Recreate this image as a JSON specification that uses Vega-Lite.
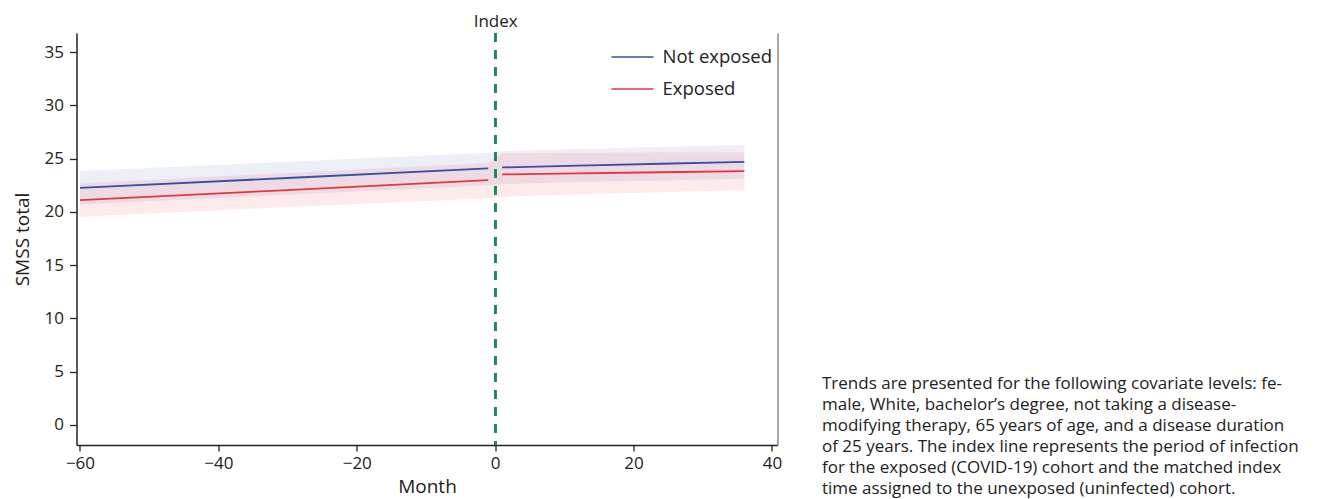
{
  "$schema": "https://vega.github.io/schema/vega-lite/v6.json",
  "autosize": {"type": "none"},
  "padding": {"left": 76.5, "top": 33, "right": 549.5, "bottom": 54},
  "width": 701,
  "height": 412,
  "background": "white",
  "config": {
    "font": "Open Sans",
    "view": {"stroke": null},
    "axis": {"labelFont": "Open Sans", "titleFont": "Open Sans", "labelColor": "#222", "titleColor": "#222", "titleFontWeight": "normal", "grid": false}
  },
  "title": {
    "text": [
      "Trends are presented for the following covariate levels: fe-",
      "male, White, bachelor’s degree, not taking a disease-",
      "modifying therapy, 65 years of age, and a disease duration",
      "of 25 years. The index line represents the period of infection",
      "for the exposed (COVID-19) cohort and the matched index",
      "time assigned to the unexposed (uninfected) cohort."
    ],
    "orient": "bottom",
    "anchor": "end",
    "align": "left",
    "frame": "group",
    "dx": 44.5,
    "dy": -124.5,
    "font": "Open Sans",
    "fontSize": 17,
    "fontWeight": "normal",
    "color": "#222",
    "lineHeight": 21
  },
  "data": {
    "values": [
      {"month": -60, "group": "Not exposed", "seg": "pre", "est": 22.26, "lo": 20.7, "hi": 23.83},
      {"month": -30, "group": "Not exposed", "seg": "pre", "est": 23.18, "lo": 21.6, "hi": 24.7},
      {"month": -1, "group": "Not exposed", "seg": "pre", "est": 24.08, "lo": 22.5, "hi": 25.55},
      {"month": 1, "group": "Not exposed", "seg": "post", "est": 24.17, "lo": 22.6, "hi": 25.7},
      {"month": 12, "group": "Not exposed", "seg": "post", "est": 24.35, "lo": 22.8, "hi": 25.9},
      {"month": 24, "group": "Not exposed", "seg": "post", "est": 24.52, "lo": 22.95, "hi": 26.1},
      {"month": 36, "group": "Not exposed", "seg": "post", "est": 24.7, "lo": 23.1, "hi": 26.27},
      {"month": -60, "group": "Exposed", "seg": "pre", "est": 21.1, "lo": 19.54, "hi": 22.66},
      {"month": -30, "group": "Exposed", "seg": "pre", "est": 22.05, "lo": 20.45, "hi": 23.65},
      {"month": -1, "group": "Exposed", "seg": "pre", "est": 22.98, "lo": 21.27, "hi": 24.6},
      {"month": 1, "group": "Exposed", "seg": "post", "est": 23.52, "lo": 21.42, "hi": 25.5},
      {"month": 12, "group": "Exposed", "seg": "post", "est": 23.62, "lo": 21.65, "hi": 25.55},
      {"month": 24, "group": "Exposed", "seg": "post", "est": 23.72, "lo": 21.85, "hi": 25.6},
      {"month": 36, "group": "Exposed", "seg": "post", "est": 23.83, "lo": 22.05, "hi": 25.6}
    ]
  },
  "resolve": {"axis": {"x": "independent", "y": "independent"}},
  "layer": [
    {
      "transform": [{"filter": "datum.group === 'Not exposed'"}],
      "mark": {"type": "area", "color": "#3a4ea3", "fillOpacity": 0.09},
      "encoding": {
        "x": {"field": "month", "type": "quantitative", "scale": {"domain": [-60.5, 40.8], "nice": false, "zero": false}, "axis": null},
        "y": {"field": "lo", "type": "quantitative", "scale": {"domain": [-1.9, 36.8], "nice": false, "zero": false},
              "axis": {"orient": "right", "labels": false, "ticks": false, "title": null, "domainColor": "#8a8a8a", "domainWidth": 1.5}},
        "y2": {"field": "hi"}
      }
    },
    {
      "transform": [{"filter": "datum.group === 'Exposed'"}],
      "mark": {"type": "area", "color": "#e8343c", "fillOpacity": 0.1},
      "encoding": {
        "x": {"field": "month", "type": "quantitative", "axis": null},
        "y": {"field": "lo", "type": "quantitative", "axis": null},
        "y2": {"field": "hi"}
      }
    },
    {
      "mark": {"type": "line", "strokeWidth": 1.8},
      "encoding": {
        "x": {"field": "month", "type": "quantitative",
              "axis": {"orient": "bottom", "values": [-60, -40, -20, 0, 20, 40], "title": "Month", "titleFontSize": 19, "labelFontSize": 17, "tickSize": 6, "tickWidth": 1.3, "tickColor": "#222", "domainColor": "#222", "domainWidth": 1.5, "labelPadding": 4, "titlePadding": 6}},
        "y": {"field": "est", "type": "quantitative",
              "axis": {"orient": "left", "values": [0, 5, 10, 15, 20, 25, 30, 35], "title": "SMSS total", "titleFontSize": 19, "labelFontSize": 17, "tickSize": 7, "tickWidth": 1.3, "tickColor": "#222", "domainColor": "#222", "domainWidth": 1.5, "labelPadding": 6, "titlePadding": 12}},
        "color": {"field": "group", "type": "nominal",
                  "scale": {"domain": ["Not exposed", "Exposed"], "range": ["#3a4ea3", "#e8343c"]},
                  "legend": {"title": null, "orient": "none", "legendX": 534, "legendY": 2, "symbolType": "stroke", "symbolSize": 1764, "symbolStrokeWidth": 1.5, "labelFontSize": 18.5, "labelColor": "#222", "labelFont": "Open Sans", "labelOffset": 8, "rowPadding": 0}},
        "detail": {"field": "seg"}
      }
    },
    {
      "mark": {"type": "rule", "color": "#1e8a55", "strokeWidth": 2, "strokeDash": [9, 8]},
      "encoding": {
        "x": {"datum": 0, "type": "quantitative",
              "axis": {"orient": "top", "values": [0], "labelExpr": "'Index'", "domain": false, "ticks": false, "tickSize": 0, "title": null, "labelFontSize": 17, "labelPadding": 3}}
      }
    }
  ]
}
